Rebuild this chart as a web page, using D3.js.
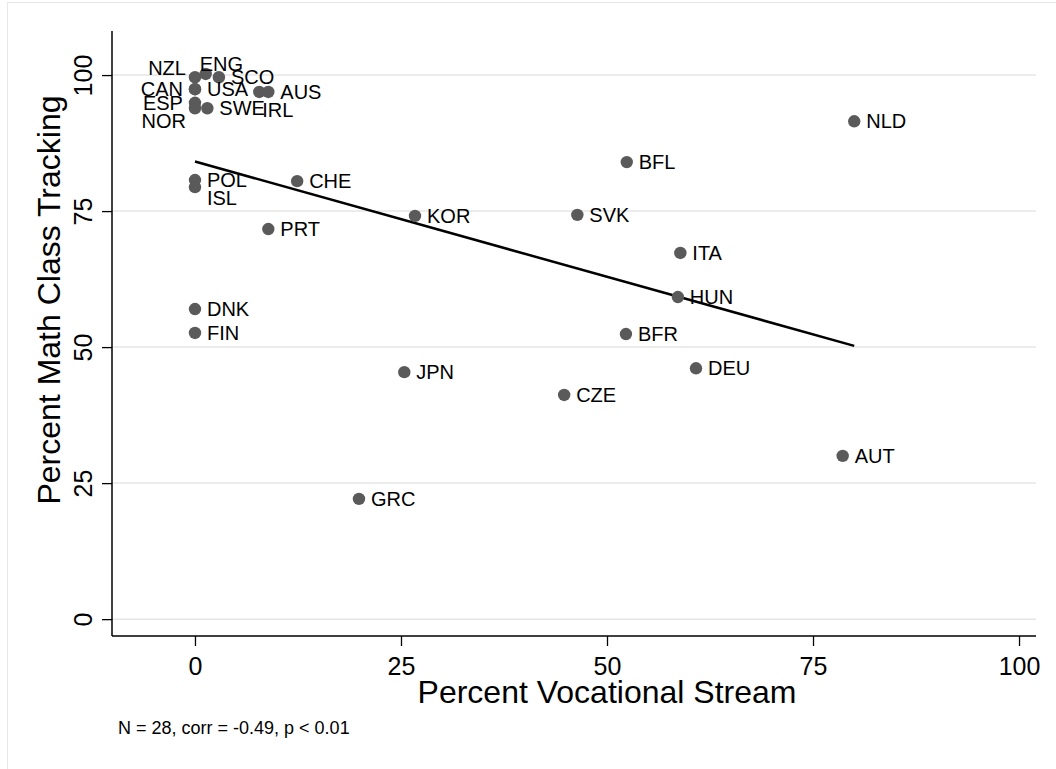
<!DOCTYPE html>
<html>
<head>
<meta charset="utf-8">
<script src="https://cdn.jsdelivr.net/npm/d3@7"></script>
<style>
  html, body { margin: 0; padding: 0; background: #fff; }
  text { font-family: "Liberation Sans", Arial, sans-serif; fill: #000; }
</style>
</head>
<body>
<div id="chart"></div>
<script>
// country codes, % vocational stream (x), % math class tracking (y)
var countries = ["NZL","ENG","SCO","CAN","USA","IRL","AUS","ESP","NOR","SWE",
                 "POL","ISL","CHE","PRT","KOR","SVK","BFL","NLD","ITA","HUN",
                 "BFR","DEU","CZE","AUT","JPN","GRC","DNK","FIN"];
var vocational = [0, 1.3, 2.9, 0, 0, 7.8, 8.9, 0, 0, 1.5,
                  0, 0, 12.4, 8.9, 26.7, 46.4, 52.4, 80.0, 58.9, 58.6,
                  52.3, 60.8, 44.8, 78.6, 25.4, 19.9, 0, 0];
var tracking = [99.6, 100.2, 99.6, 97.4, 97.4, 96.9, 96.9, 94.9, 93.9, 93.9,
                80.7, 79.4, 80.5, 71.7, 74.1, 74.3, 84.0, 91.5, 67.3, 59.2,
                52.4, 46.1, 41.2, 30.0, 45.4, 22.1, 57.0, 52.6];
// marker label clock positions (default 3)
var labelClock = {NZL: 10, ENG: 1, CAN: 9, IRL: 5, ESP: 9, NOR: 7, ISL: 4};

var xTicks = [0, 25, 50, 75, 100];
var yTicks = [0, 25, 50, 75, 100];
var corrText = "corr = -0.49, p < 0.01";

var W = 1056, H = 769;
var plot = {left: 112, right: 1036, top: 31, bottom: 636};

var data = countries.map(function(c, i) {
  return {name: c, x: vocational[i], y: tracking[i]};
});

var svg = d3.select("#chart").append("svg")
  .attr("width", W).attr("height", H);

// outer graph region border
svg.append("rect")
  .attr("x", 7.5).attr("y", 2.5)
  .attr("width", W + 20).attr("height", H + 20)
  .attr("fill", "none").attr("stroke", "#e8e8e8").attr("stroke-width", 1);

var x = d3.scaleLinear().domain([-10.07, 102.06]).range([plot.left, plot.right]);
var y = d3.scaleLinear().domain([-3.1, 108.1]).range([plot.bottom, plot.top]);

// gridlines
svg.append("g").selectAll("line")
  .data(yTicks)
  .enter().append("line")
    .attr("x1", plot.left).attr("x2", plot.right)
    .attr("y1", function(d) { return y(d); })
    .attr("y2", function(d) { return y(d); })
    .attr("stroke", "#e6e6e6").attr("stroke-width", 1.5);

// x axis
var xAxis = svg.append("g")
  .attr("transform", "translate(0," + plot.bottom + ")")
  .call(d3.axisBottom(x).tickValues(xTicks).tickSize(10));
xAxis.select(".domain").attr("stroke", "#000").attr("stroke-width", 1.5)
  .attr("d", "M" + plot.left + ",0H" + plot.right);
xAxis.selectAll(".tick line").attr("stroke", "#000").attr("stroke-width", 1.3);
xAxis.selectAll(".tick text")
  .attr("font-family", "Liberation Sans, Arial, sans-serif")
  .attr("font-size", 25).attr("fill", "#000")
  .attr("dy", null).attr("y", 39);

// y axis
var yAxis = svg.append("g")
  .attr("transform", "translate(" + plot.left + ",0)")
  .call(d3.axisLeft(y).tickValues(yTicks).tickSize(10));
yAxis.select(".domain").attr("stroke", "#000").attr("stroke-width", 1.5)
  .attr("d", "M0," + plot.top + "V" + plot.bottom);
yAxis.selectAll(".tick line").attr("stroke", "#000").attr("stroke-width", 1.3);
yAxis.selectAll(".tick text")
  .attr("font-family", "Liberation Sans, Arial, sans-serif")
  .attr("font-size", 25).attr("fill", "#000")
  .attr("x", null).attr("dy", null)
  .attr("text-anchor", "middle")
  .attr("transform", "translate(-20,0) rotate(-90)");

// axis titles
svg.append("text")
  .attr("x", x(50)).attr("y", 703)
  .attr("text-anchor", "middle").attr("font-size", 32)
  .text("Percent Vocational Stream");

svg.append("text")
  .attr("transform", "translate(60,300) rotate(-90)")
  .attr("text-anchor", "middle").attr("font-size", 32)
  .text("Percent Math Class Tracking");

// linear fit
var mx = d3.mean(data, function(d) { return d.x; });
var my = d3.mean(data, function(d) { return d.y; });
var sxy = d3.sum(data, function(d) { return (d.x - mx) * (d.y - my); });
var sxx = d3.sum(data, function(d) { return (d.x - mx) * (d.x - mx); });
var slope = sxy / sxx, icept = my - slope * mx;
var xr = d3.extent(data, function(d) { return d.x; });

svg.append("line")
  .attr("x1", x(xr[0])).attr("y1", y(icept + slope * xr[0]))
  .attr("x2", x(xr[1])).attr("y2", y(icept + slope * xr[1]))
  .attr("stroke", "#000").attr("stroke-width", 2.5);

// markers
svg.append("g").selectAll("circle")
  .data(data)
  .enter().append("circle")
    .attr("cx", function(d) { return x(d.x); })
    .attr("cy", function(d) { return y(d.y); })
    .attr("r", 6.2)
    .attr("fill", "#5a5a5a");

// marker labels
var clockOff = {
  1:  {dx: -6,  dy: -10, anchor: "start"},
  3:  {dx: 12,  dy: 0,   anchor: "start"},
  4:  {dx: 12,  dy: 11,  anchor: "start"},
  5:  {dx: 3,   dy: 18,  anchor: "start"},
  7:  {dx: -9,  dy: 13,  anchor: "end"},
  9:  {dx: -12, dy: 0,   anchor: "end"},
  10: {dx: -9,  dy: -9,  anchor: "end"}
};

svg.append("g").selectAll("text")
  .data(data)
  .enter().append("text")
    .each(function(d) {
      var o = clockOff[labelClock[d.name] || 3];
      d3.select(this)
        .attr("x", x(d.x) + o.dx)
        .attr("y", y(d.y) + o.dy)
        .attr("text-anchor", o.anchor);
    })
    .attr("dominant-baseline", "central")
    .attr("font-size", 20)
    .text(function(d) { return d.name; });

// note
svg.append("text")
  .attr("x", 118).attr("y", 734)
  .attr("font-size", 18)
  .text("N = " + data.length + ", " + corrText);
</script>
</body>
</html>
